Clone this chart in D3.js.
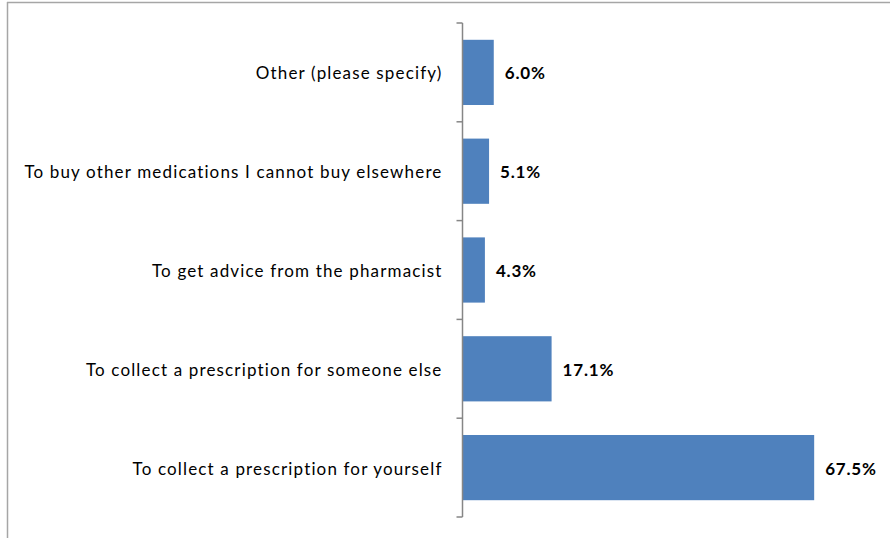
<!DOCTYPE html>
<html>
<head>
<meta charset="utf-8">
<script src="https://cdn.jsdelivr.net/npm/d3@7"></script>
<style>
  html, body { margin: 0; padding: 0; background: #fff; }
  svg { display: block; }
</style>
</head>
<body>
<svg id="chart" width="890" height="538"></svg>
<script>
// Reasons for visiting, from top row to bottom row
const categories = [
  "Other (please specify)",
  "To buy other medications I cannot buy elsewhere",
  "To get advice from the pharmacist",
  "To collect a prescription for someone else",
  "To collect a prescription for yourself"
];
const values = [6.0, 5.1, 4.3, 17.1, 67.5];

const svg = d3.select("#chart");
const W = 890, H = 538;

// chart frame (left and top edges)
svg.append("line").attr("x1", 7.5).attr("x2", 7.5).attr("y1", 2).attr("y2", H)
  .attr("stroke", "#a6a6a6").attr("stroke-width", 1.5);
svg.append("line").attr("x1", 7).attr("x2", W).attr("y1", 2.5).attr("y2", 2.5)
  .attr("stroke", "#a6a6a6").attr("stroke-width", 1.5);

const plot = { left: 462.5, top: 23, bottom: 517 };

const y = d3.scaleBand()
  .domain(categories)
  .range([plot.top, plot.bottom])
  .paddingInner(0.34)
  .paddingOuter(0.17);

const x = d3.scaleLinear().domain([0, 100]).range([plot.left, plot.left + 521]);

// bars
svg.append("g").selectAll("rect")
  .data(categories)
  .join("rect")
  .attr("x", plot.left)
  .attr("y", d => y(d))
  .attr("width", (d, i) => x(values[i]) - plot.left)
  .attr("height", y.bandwidth())
  .attr("fill", "#4f81bd");

// category axis with tick marks between rows
const step = (plot.bottom - plot.top) / categories.length;
const axis = svg.append("g");
axis.append("line")
  .attr("x1", plot.left).attr("x2", plot.left)
  .attr("y1", plot.top).attr("y2", plot.bottom)
  .attr("stroke", "#868686").attr("stroke-width", 1.5);
axis.selectAll("line.tick")
  .data(d3.range(categories.length + 1))
  .join("line")
  .attr("class", "tick")
  .attr("x1", plot.left - 6).attr("x2", plot.left)
  .attr("y1", i => plot.top + i * step).attr("y2", i => plot.top + i * step)
  .attr("stroke", "#868686").attr("stroke-width", 1.5);

// category labels
svg.append("g").selectAll("text")
  .data(categories)
  .join("text")
  .attr("x", plot.left - 20)
  .attr("y", d => y(d) + y.bandwidth() / 2 + 1)
  .attr("dy", "0.35em")
  .attr("text-anchor", "end")
  .attr("font-family", "Lato, 'Open Sans', sans-serif")
  .attr("font-size", 17)
  .attr("letter-spacing", 1.15)
  .attr("fill", "#000")
  .text(d => d);

// value labels
svg.append("g").selectAll("text")
  .data(categories)
  .join("text")
  .attr("x", (d, i) => x(values[i]) + 11)
  .attr("y", d => y(d) + y.bandwidth() / 2 + 1)
  .attr("dy", "0.35em")
  .attr("font-family", "Lato, 'Open Sans', sans-serif")
  .attr("font-weight", "bold")
  .attr("font-size", 17)
  .attr("letter-spacing", 0.8)
  .attr("fill", "#000")
  .text((d, i) => values[i].toFixed(1) + "%");
</script>
</body>
</html>
